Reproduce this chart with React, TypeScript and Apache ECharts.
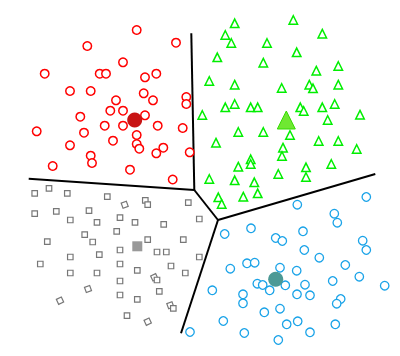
import React, { useEffect, useRef } from "react";
import * as echarts from "echarts";

const redPoints: number[][] = [
  [136.7, 30], [87.3, 46], [176, 42.7], [123, 62.3], [44.7, 73.7], [99.7, 73.7], [106, 73.7],
  [156.3, 73.7], [145, 77.3], [70, 91], [90.7, 91], [143.7, 93.3], [116, 100.3], [153, 100.3],
  [186.3, 97], [186.3, 104], [110.3, 110.7], [123, 110.7], [145, 115.3], [80.3, 116.7],
  [104.7, 125.7], [123, 125.7], [157.7, 125.7], [182.7, 128], [36.7, 131.3], [84, 132.7],
  [136.7, 135], [113, 140.7], [136.7, 144], [139.3, 148.7], [163.3, 147.7], [156.3, 153.3],
  [70, 145.3], [90.7, 155.7], [92, 163], [189.7, 152.3], [52.7, 166], [130, 169.7], [172.7, 179.5],
];
const redCenter: number[][] = [[134.7, 120]];

const greenPoints: number[][] = [
  [234.7, 23.3], [293.3, 20], [225.3, 35], [322.3, 33.7], [231.3, 43], [267, 43], [217.3, 57.3],
  [296.7, 52.3], [263.3, 62.7], [316.3, 70.7], [338.3, 66], [209.3, 81], [234.7, 84.7],
  [281.7, 88], [309.3, 84.7], [313, 88.3], [338.3, 84.7], [202.3, 115], [225.3, 107.3],
  [234.7, 104], [250.7, 107.3], [257.7, 107.3], [300.3, 107.3], [303.7, 111], [322.3, 107.3],
  [334.7, 104], [360, 114.7], [327.7, 120], [238.3, 132], [263.3, 132], [290, 135], [216, 142.7],
  [318.7, 141], [338.3, 141], [356.7, 149], [283, 147.7], [282, 156], [250.7, 159.3],
  [250.7, 164], [238.3, 166.7], [306, 167.3], [331.3, 164], [278.3, 174], [306, 177],
  [209.3, 179], [234.7, 180.3], [254.3, 182.3], [257.7, 193.3], [218.3, 197.3], [221.7, 204],
  [243.3, 196.7],
];
const greenCenter: number[][] = [[286.3, 120]];

const grayPoints: number[][] = [
  [34.7, 193.3], [49, 188.3], [67.3, 193.3], [107.3, 196.7], [124.7, 204.7], [145.3, 200.3],
  [147.7, 204.7], [188.3, 202.7], [34.7, 213.7], [56.3, 211.3], [89, 210.7], [70.3, 220],
  [97, 222.3], [120, 217.7], [135, 222.3], [163.7, 224.3], [199.3, 219], [116.7, 231.3],
  [84.7, 234.7], [92.7, 242], [47.3, 241.7], [147.7, 239.7], [183.3, 239.7], [120, 250],
  [157, 252], [166.3, 252], [70.3, 257], [99.3, 254.7], [199.3, 257], [40.3, 264], [120, 264],
  [171, 266], [70.3, 273], [97, 273], [137.3, 270.3], [185.3, 273], [154.3, 277.3], [157, 280],
  [120, 281], [88, 289], [159.3, 291.3], [60, 300.7], [120, 295], [137.3, 299.3], [170.3, 305.3],
  [173.3, 308.3], [127, 315.7], [147.7, 321.7],
];
const grayRotation: number[] = [
  0, 0, 0, 0, 20, 0, 0, 0, 0, 0, 0, 0, 0, 0, 0, 0, 0, 0, 0, 0, 0, 0, 0, 0,
  0, 0, 0, 0, 0, 0, 0, 0, 0, 0, 0, 0, 25, 0, 0, 20, 0, 25, 0, 0, 20, 0, 0, 25,
];
const grayCenter: number[][] = [[137.3, 246.3]];

const bluePoints: number[][] = [
  [366.3, 197], [297.3, 204.7], [334.3, 213.7], [337.3, 222.7], [224.7, 234], [251, 228.3],
  [275.7, 238], [282.3, 241], [303, 231.3], [362.7, 240.7], [366.3, 250], [304.3, 250],
  [319.3, 257.7], [230.3, 268.7], [247, 263.3], [254.7, 262.7], [280, 267.7], [296.7, 270.7],
  [345.3, 265], [359.3, 276.7], [332.7, 281], [384.7, 285.7], [257.3, 283.7], [262.7, 285],
  [269.7, 290.3], [285.3, 285.3], [305, 284.7], [212.3, 290.3], [243, 294.3], [243, 303.3],
  [297, 294.3], [310, 295.3], [340.7, 299], [336.7, 303.7], [280, 308.7], [264.3, 312.3],
  [223.3, 321], [297.7, 321.3], [286.7, 324.3], [335.3, 324.3], [244.3, 333], [310, 332.3],
  [278.3, 340], [190, 332],
];
const blueCenter: number[][] = [[275.7, 279.3]];

const boundaryLines: number[][][] = [
  [[191.3, 33.3], [194.3, 190]],
  [[28.7, 178.7], [194.3, 190]],
  [[194.3, 190], [218, 220]],
  [[218, 220], [181, 333.3]],
  [[218, 220], [375.3, 174]],
];

export default function App() {
  const ref = useRef<HTMLDivElement>(null);
  useEffect(() => {
    if (!ref.current) return;
    const chart = echarts.init(ref.current, null, { renderer: "svg" });
    const lineSeries = boundaryLines.map((seg) => ({
      type: "line",
      data: seg,
      symbol: "none",
      lineStyle: { color: "#000", width: 2 },
      z: 1,
    }));
    chart.setOption({
      animation: false,
      backgroundColor: "#fff",
      grid: { left: 0, right: 0, top: 0, bottom: 0 },
      xAxis: { type: "value", min: 0, max: 400, show: false },
      yAxis: { type: "value", min: 0, max: 356, inverse: true, show: false },
      series: [
        ...lineSeries,
        {
          type: "scatter",
          data: redPoints,
          symbol: "circle",
          symbolSize: 8.5,
          itemStyle: { color: "#fff", borderColor: "#ff0000", borderWidth: 1.5, opacity: 1 },
          z: 2,
        },
        {
          type: "scatter",
          data: greenPoints,
          symbol: "triangle",
          symbolSize: [8.5, 8.5],
          itemStyle: { color: "#fff", borderColor: "#00ee00", borderWidth: 1.5, opacity: 1 },
          z: 2,
        },
        {
          type: "scatter",
          data: grayPoints.map((p, i) => ({ value: p, symbolRotate: grayRotation[i] })),
          symbol: "rect",
          symbolSize: 5.5,
          itemStyle: { color: "#fff", borderColor: "#777", borderWidth: 1.2, opacity: 1 },
          z: 2,
        },
        {
          type: "scatter",
          data: bluePoints,
          symbol: "circle",
          symbolSize: 8.5,
          itemStyle: { color: "#fff", borderColor: "#1aa3e8", borderWidth: 1.3, opacity: 1 },
          z: 2,
        },
        {
          type: "scatter",
          data: redCenter,
          symbol: "circle",
          symbolSize: 15,
          itemStyle: { color: "#c81414", opacity: 1 },
          z: 3,
        },
        {
          type: "scatter",
          data: greenCenter,
          symbol: "triangle",
          symbolSize: [18, 18],
          itemStyle: { color: "#6fe832", borderColor: "#33dd00", borderWidth: 1, opacity: 1 },
          z: 3,
        },
        {
          type: "scatter",
          data: grayCenter,
          symbol: "rect",
          symbolSize: 10,
          itemStyle: { color: "#999999", opacity: 1 },
          z: 3,
        },
        {
          type: "scatter",
          data: blueCenter,
          symbol: "circle",
          symbolSize: 15,
          itemStyle: { color: "#4c9995", opacity: 1 },
          z: 3,
        },
      ],
    });
    return () => chart.dispose();
  }, []);
  return (
    <div
      ref={ref}
      style={{ position: "fixed", left: 0, top: 0, width: 400, height: 356, background: "#fff" }}
    />
  );
}
